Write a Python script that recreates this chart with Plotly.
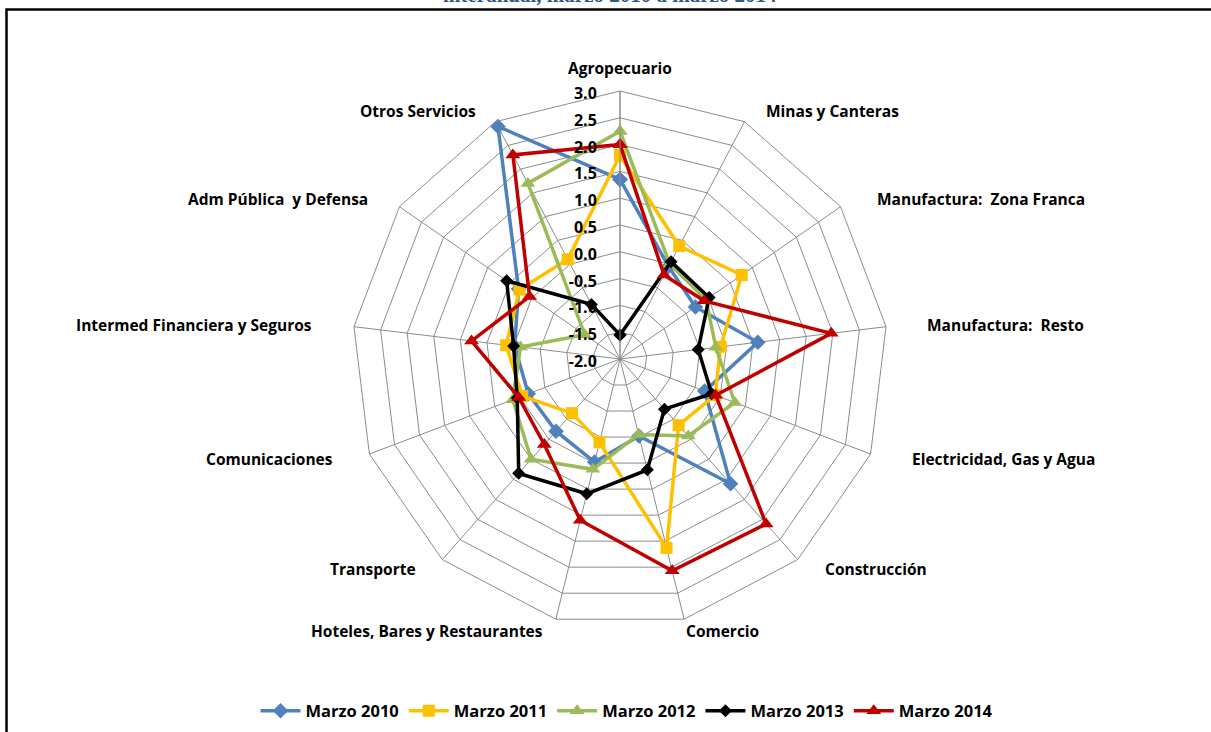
import plotly.graph_objects as go

W, H = 1211, 732

sectores = [
    "Agropecuario", "Minas y Canteras", "Manufactura:  Zona Franca", "Manufactura:  Resto",
    "Electricidad, Gas y Agua", "Construcción", "Comercio", "Hoteles, Bares y Restaurantes",
    "Transporte", "Comunicaciones", "Intermed Financiera y Seguros", "Adm Pública  y Defensa",
    "Otros Servicios",
]

marzo_2010 = [1.35, -0.05, -0.29, 0.59, -0.31, 1.11, -0.52, -0.02, -0.2, -0.17, -0.02, 0.3, 2.9]
marzo_2011 = [1.8, 0.38, 0.76, -0.11, -0.1, -0.35, 1.63, -0.4, -0.65, -0.05, 0.14, 0.28, 0.1]
marzo_2012 = [2.25, 0.0, -0.05, -0.2, 0.29, -0.08, -0.55, 0.12, 0.5, 0.14, -0.13, -1.2, 1.7]
marzo_2013 = [-1.55, 0.05, 0.02, -0.53, -0.17, -0.75, 0.13, 0.59, 0.85, 0.05, 0.0, 0.57, -0.85]
marzo_2014 = [2.0, -0.23, -0.09, 1.97, -0.09, 2.11, 2.07, 1.1, 0.13, 0.02, 0.79, 0.05, 2.3]

ticks = [-2.0, -1.5, -1.0, -0.5, 0.0, 0.5, 1.0, 1.5, 2.0, 2.5, 3.0]

series = [
    ("Marzo 2010", marzo_2010, "#4F81BD", "diamond", 12),
    ("Marzo 2011", marzo_2011, "#FFC000", "square", 12),
    ("Marzo 2012", marzo_2012, "#9BBB59", "triangle-up", 13),
    ("Marzo 2013", marzo_2013, "#000000", "diamond", 10),
    ("Marzo 2014", marzo_2014, "#C00000", "triangle-up", 13),
]

# plotly hides polar markers when the radial range starts below zero,
# so the axis is offset by its minimum and relabelled with the real values
R_MIN = ticks[0]

# label positions in pixels (center x, center y), as placed in the original chart
_LABEL_POS = [
    (620, 68), (832, 111), (981, 199), (1005, 325), (1003, 459), (876, 569), (722, 631),
    (427, 631), (373, 569), (269, 459), (194, 325), (278, 199), (418, 111),
]

_GRID = "#8C8C8C"
_FONT = "Open Sans"

fig = go.Figure()
for name, vals, color, symbol, size in series:
    r = [v - R_MIN for v in vals]
    fig.add_trace(
        go.Scatterpolar(
            r=r + r[:1],
            theta=sectores + sectores[:1],
            name=name,
            mode="lines+markers",
            line=dict(color=color, width=3.5),
            marker=dict(symbol=symbol, size=size, color=color, line=dict(width=0)),
            customdata=vals + vals[:1],
            hovertemplate="%{theta}: %{customdata:.2f}<extra>" + name + "</extra>",
        )
    )

cx, cy, R = 620, 359, 268
fig.update_layout(
    width=W,
    height=H,
    paper_bgcolor="white",
    margin=dict(l=0, r=0, t=0, b=0),
    font=dict(family=_FONT, color="black"),
    polar=dict(
        domain=dict(x=[(cx - R) / W, (cx + R) / W], y=[(H - cy - R) / H, (H - cy + R) / H]),
        bgcolor="white",
        gridshape="linear",
        angularaxis=dict(
            rotation=90,
            direction="clockwise",
            showticklabels=False,
            ticks="",
            gridcolor=_GRID,
            linecolor=_GRID,
            gridwidth=1,
        ),
        radialaxis=dict(
            range=[ticks[0] - R_MIN, ticks[-1] - R_MIN],
            tickvals=[t - R_MIN for t in ticks],
            ticktext=[f"{t:.1f}\u00a0\u00a0" for t in ticks],
            angle=90,
            side="counterclockwise",
            ticks="",
            showline=True,
            linecolor=_GRID,
            gridcolor=_GRID,
            tickfont=dict(family=_FONT, size=16, weight="bold", color="black"),
        ),
    ),
    showlegend=True,
    legend=dict(
        orientation="h",
        x=627 / W,
        xanchor="center",
        y=(H - 711) / H,
        yanchor="middle",
        font=dict(family=_FONT, size=16.5, weight="bold"),
        itemwidth=40,
    ),
)

for label, (lx, ly) in zip(sectores, _LABEL_POS):
    fig.add_annotation(
        text=label, x=lx / W, y=(H - ly) / H, xref="paper", yref="paper",
        showarrow=False, xanchor="center", yanchor="middle",
        font=dict(family=_FONT, size=15.5, weight="bold", color="black"),
    )

# title, cut off by the top of the picture
fig.add_annotation(
    text="interanual, marzo 2010 a marzo 2014", x=610 / W, y=(H - 9) / H,
    xref="paper", yref="paper", showarrow=False, xanchor="center", yanchor="bottom",
    font=dict(family="Liberation Serif", size=21, weight="bold", color="#2E5A8A"),
)

# frame
fig.add_shape(
    type="rect", xref="paper", yref="paper",
    x0=6.5 / W, x1=(W + 20) / W, y0=-0.1, y1=(H - 9.5) / H,
    line=dict(color="black", width=2.5), fillcolor="rgba(0,0,0,0)", layer="below",
)

fig.write_html(
    "out.html",
    config={"displayModeBar": False},
    post_script="document.body.style.margin='0px';",
)
